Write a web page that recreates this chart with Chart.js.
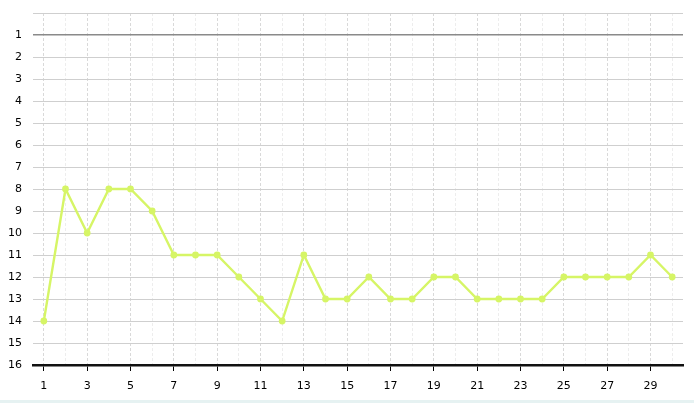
<!DOCTYPE html>
<html>
<head>
<meta charset="utf-8">
<script src="https://cdn.jsdelivr.net/npm/chart.js@4/dist/chart.umd.min.js"></script>
<style>
    html, body { margin: 0; padding: 0; background: #fff; }
    #wrap { width: 694px; height: 400px; position: relative; border-bottom: 3px solid #e6f2f2; }
</style>
</head>
<body>
<div id="wrap"><canvas id="rankChart"></canvas></div>
<script>
    // position per round (lower is better, axis reversed)
    var rounds = ['1', '2', '3', '4', '5', '6', '7', '8', '9', '10', '11', '12', '13', '14', '15',
        '16', '17', '18', '19', '20', '21', '22', '23', '24', '25', '26', '27', '28', '29', '30'];
    var positions = [14, 8, 10, 8, 8, 9, 11, 11, 11, 12, 13, 14, 11, 13, 13,
        12, 13, 13, 12, 12, 13, 13, 13, 13, 12, 12, 12, 12, 11, 12];
    var yMin = 0;
    var yMax = 16;

    var ctx = document.getElementById('rankChart').getContext('2d');
    new Chart(ctx, {
        type: 'line',
        data: {
            labels: rounds,
            datasets: [{
                data: positions,
                borderColor: '#d6f566',
                backgroundColor: '#d6f566',
                borderWidth: 2.4,
                pointRadius: 2.2,
                pointHoverRadius: 3,
                tension: 0,
                fill: false
            }]
        },
        options: {
            responsive: true,
            maintainAspectRatio: false,
            animation: false,
            layout: { padding: { top: 13, right: 11, left: 0, bottom: 0 } },
            plugins: {
                legend: { display: false },
                tooltip: { enabled: false }
            },
            scales: {
                x: {
                    offset: true,
                    grid: {
                        offset: false,
                        drawTicks: true,
                        tickLength: 6,
                        color: function (c) { return c.index % 2 === 0 ? '#d9d9d9' : '#ededed'; },
                        tickColor: function (c) { return c.index % 2 === 0 ? '#000' : 'rgba(0,0,0,0)'; },
                        tickBorderDash: []
                    },
                    border: { display: true, color: '#111', width: 2.5, dash: [3, 2] },
                    ticks: {
                        autoSkip: false,
                        maxRotation: 0,
                        padding: 9,
                        color: '#000',
                        font: { family: 'DejaVu Sans', size: 11 },
                        callback: function (v, i) { return i % 2 === 0 ? rounds[i] : ''; }
                    },
                    afterFit: function (scale) { scale.height = 35; }
                },
                y: {
                    reverse: true,
                    min: yMin,
                    max: yMax,
                    grid: {
                        drawTicks: false,
                        color: function (c) { return c.tick.value === 1 ? '#8a8a8a' : '#cfcfcf'; },
                        lineWidth: function (c) { return c.tick.value === 1 ? 1.5 : 1; }
                    },
                    border: { display: false },
                    ticks: {
                        stepSize: 1,
                        padding: 11,
                        color: '#000',
                        font: { family: 'DejaVu Sans', size: 11 },
                        callback: function (v) { return v === 0 ? '' : v; }
                    },
                    afterFit: function (scale) {
                        scale.width = 33;
                        scale.paddingTop = 0;
                        scale.paddingBottom = 0;
                    }
                }
            }
        }
    });
</script>
</body>
</html>
